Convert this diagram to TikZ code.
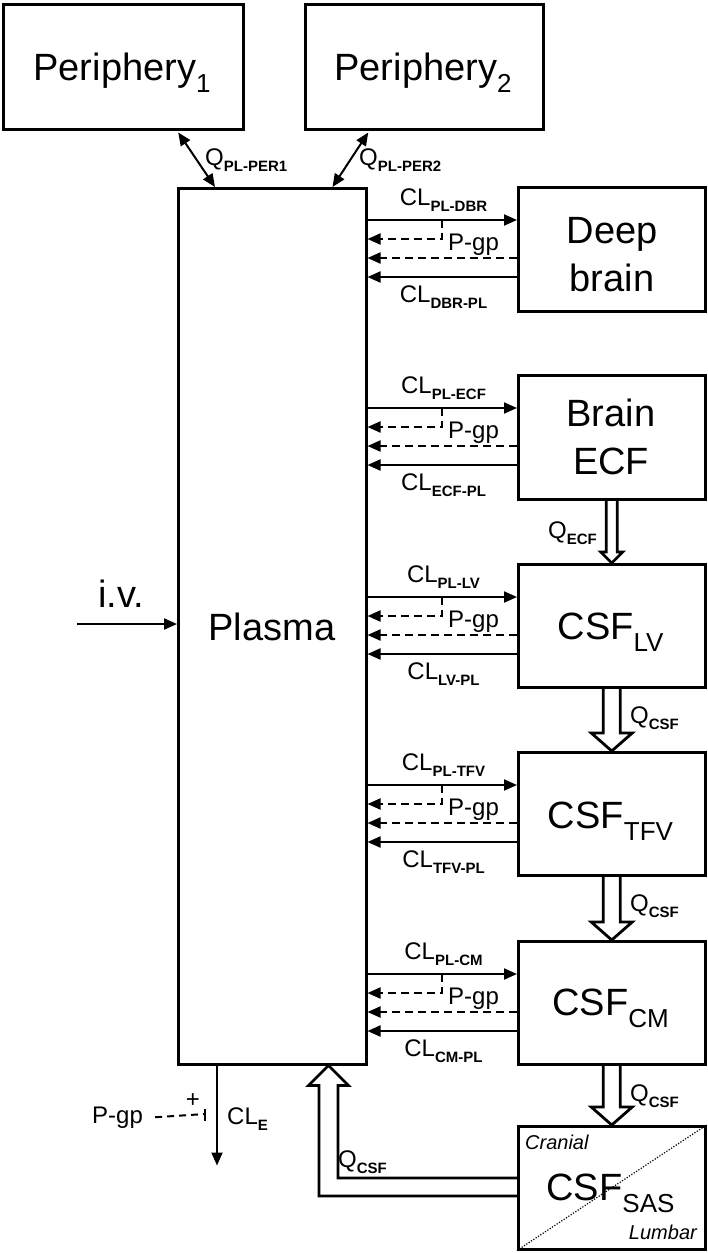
\documentclass[tikz,border=0pt]{standalone}
\usepackage{fontspec}
\setmainfont{Liberation Sans}
\usetikzlibrary{arrows.meta,calc}
\newcommand\bigsub[2]{#1\raisebox{-12pt}{\fontsize{26}{26}\selectfont #2}}
\newcommand\smsub[2]{#1\raisebox{-6pt}{\fontsize{15}{15}\selectfont\bfseries #2}}
\newcommand\fatdown[5]{\draw[fat] ($(#1)+(-#3,0)$) -- ($(#2)+(-#3,-#5)$) -- ($(#2)+(-#4,-#5)$) -- (#2) -- ($(#2)+(#4,-#5)$) -- ($(#2)+(#3,-#5)$) -- ($(#1)+(#3,0)$);}
\begin{document}
\begin{tikzpicture}[x=1pt,y=-1pt,
  box/.style={draw, line width=2.5pt, inner sep=0pt, anchor=north west},
  big/.style={font=\fontsize{38}{48}\selectfont, inner sep=0pt},
  lab/.style={font=\fontsize{24}{28}\selectfont, inner sep=0pt},
  arr/.style={line width=2pt, -{Triangle[length=13pt,width=11pt]}},
  darr/.style={arr, dash pattern=on 8pt off 5pt},
  dbl/.style={line width=2pt, {Triangle[length=13pt,width=11pt]}-{Triangle[length=13pt,width=11pt]}},
  fat/.style={line width=2.8pt, line join=miter}]
\fill[white] (0,0) rectangle (708,1253);
\useasboundingbox (0,0) rectangle (708,1253);
% boxes
\node[box, minimum width=240pt, minimum height=125pt] (per1) at (2,3) {};
\node[box, minimum width=238pt, minimum height=125pt] (per2) at (304,3) {};
\node[box, minimum width=188pt, minimum height=876pt] (plasma) at (177,187) {};
\node[box, minimum width=187pt, minimum height=124pt] (dbr) at (517,186) {};
\node[box, minimum width=187pt, minimum height=124pt] (ecf) at (517,374) {};
\node[box, minimum width=187pt, minimum height=123pt] (lv) at (517,563) {};
\node[box, minimum width=187pt, minimum height=123pt] (tfv) at (517,751) {};
\node[box, minimum width=187pt, minimum height=123pt] (cm) at (517,940) {};
\node[box, minimum width=187pt, minimum height=123pt] (sas) at (517,1125) {};
% box texts
\node[big, anchor=base] (per1t) at (122,80) {\bigsub{Periphery}{1}};
\node[big, anchor=base] (per2t) at (423,80) {\bigsub{Periphery}{2}};
\node[big, anchor=base] (plasmat) at (272,640) {Plasma};
\node[big, align=center] (dbrt) at (612,255) {Deep\\brain};
\node[big, align=center] (ecft) at (611,437) {Brain\\ECF};
\node[big, anchor=base] (lvt) at (610.5,639) {\bigsub{CSF}{LV}};
\node[big, anchor=base] (tfvt) at (610.5,828) {\bigsub{CSF}{TFV}};
\node[big, anchor=base] (cmt) at (610.5,1015) {\bigsub{CSF}{CM}};
\node[big, anchor=base] (sast) at (610.5,1200) {\bigsub{CSF}{SAS}};
\node[font=\fontsize{20}{24}\selectfont\itshape, inner sep=0pt, anchor=base west] (cran) at (525,1149) {Cranial};
\node[font=\fontsize{20}{24}\selectfont\itshape, inner sep=0pt, anchor=base east] (lumb) at (697,1239) {Lumbar};
\draw[line width=1.2pt, dash pattern=on 1.2pt off 1.6pt] (sas.south west) -- (sas.north east);
% periphery exchange
\draw[dbl] ([xshift=55pt,yshift=-2pt]per1.south) -- ([xshift=38pt]plasma.north west);
\draw[dbl] ([xshift=-56pt,yshift=-2pt]per2.south) -- ([xshift=-35pt]plasma.north east);
\node[lab, anchor=base west] (qp1) at (205,165) {\smsub{Q}{PL-PER1}};
\node[lab, anchor=base west] (qp2) at (359,165) {\smsub{Q}{PL-PER2}};
% i.v.
\coordinate (ivs) at (77,624);
\draw[arr] (ivs) -- (plasma.west |- ivs);
\node[big, anchor=base] (ivt) at (121,607) {i.v.};
% brain exchanges
\foreach \n/\a/\b in {dbr/PL-DBR/DBR-PL, ecf/PL-ECF/ECF-PL, lv/PL-LV/LV-PL, tfv/PL-TFV/TFV-PL, cm/PL-CM/CM-PL}{
  \coordinate (\n-o) at ([yshift=-34pt]\n.north west);
  \coordinate (\n-p) at ([yshift=-53pt]\n.north west);
  \coordinate (\n-q) at ([yshift=-72pt]\n.north west);
  \coordinate (\n-r) at ([yshift=-91pt]\n.north west);
  \coordinate (\n-b) at ([xshift=-75pt]\n-o);
  \draw[arr] (plasma.east |- \n-o) -- (\n-o);
  \draw[darr] (\n-b) -- (\n-b |- \n-p) -- (plasma.east |- \n-p);
  \draw[darr] (\n-q) -- (plasma.east |- \n-q);
  \draw[arr] (\n-r) -- (plasma.east |- \n-r);
  \node[lab, anchor=base] (\n-lo) at ($(plasma.east |- \n-o)+(76,-15)$) {\smsub{CL}{\a}};
  \node[lab, anchor=base] (\n-lr) at ($(plasma.east |- \n-r)+(76,25)$) {\smsub{CL}{\b}};
  \node[lab, anchor=base west] (\n-pg) at ($(\n-b |- \n-p)+(6,11)$) {P-gp};
}
% CSF flows
\fatdown{ecf.south}{lv.north}{5.5}{11}{11}
\node[lab, anchor=base west] (qecf) at (548,538) {\smsub{Q}{ECF}};
\fatdown{lv.south}{tfv.north}{8.5}{20.5}{18}
\node[lab, anchor=base west] (qcsf1) at (630,723) {\smsub{Q}{CSF}};
\fatdown{tfv.south}{cm.north}{8.5}{20.5}{18}
\node[lab, anchor=base west] (qcsf2) at (630,911) {\smsub{Q}{CSF}};
\fatdown{cm.south}{sas.north}{8.5}{20.5}{18}
\node[lab, anchor=base west] (qcsf3) at (630,1101) {\smsub{Q}{CSF}};
% return flow to plasma
\coordinate (rtip) at ([xshift=-39pt]plasma.south east);
\coordinate (rin) at ([yshift=-53pt]sas.north west);
\coordinate (rout) at ([yshift=-71pt]sas.north west);
\draw[fat] (rin) -- ($(rtip|-rin)+(9.5,0)$) -- ($(rtip)+(9.5,20)$) -- ($(rtip)+(20,20)$) -- (rtip) -- ($(rtip)+(-20,20)$) -- ($(rtip)+(-9.5,20)$) -- ($(rtip|-rout)+(-9.5,0)$) -- (rout);
\node[lab, anchor=base west] (qcsf4) at (338,1167) {\smsub{Q}{CSF}};
% elimination
\coordinate (cle) at ([xshift=40pt,yshift=-100pt]plasma.south west);
\draw[arr] ([xshift=40pt]plasma.south west) -- (cle);
\node[lab, anchor=base west] (clet) at (227,1124) {\smsub{CL}{E}};
\node[lab, anchor=base west] (pgpe) at (92,1123) {P-gp};
\coordinate (tk) at (205,1114);
\draw[line width=2pt, dash pattern=on 7pt off 5pt] ([xshift=12pt]pgpe.east) -- (tk);
\draw[line width=2pt] (205,1109) -- (205,1121);
\node[lab] (plus) at (193,1101) {+};
\end{tikzpicture}
\end{document}
